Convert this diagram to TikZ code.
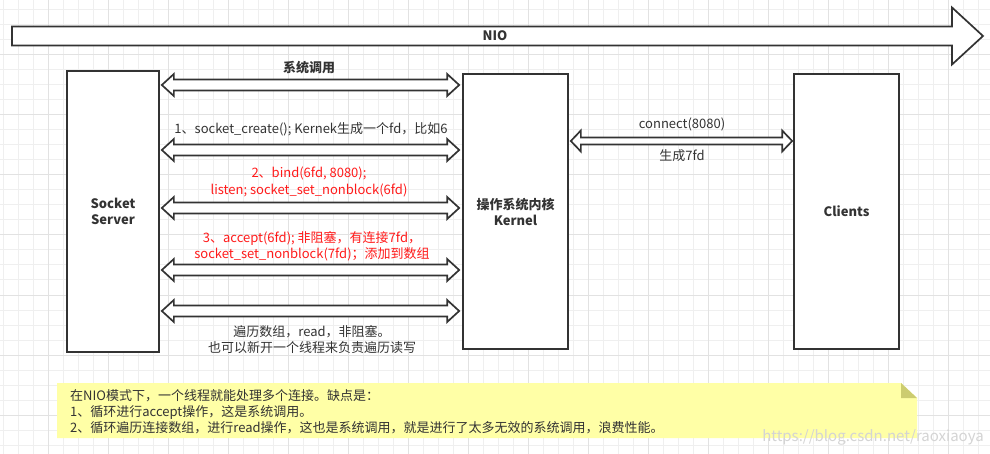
\documentclass[tikz,border=0pt]{standalone}
\usepackage{fontspec}
\setmainfont{Noto Sans CJK SC}
\usetikzlibrary{calc}
\definecolor{ink}{HTML}{333333}
\definecolor{gridminor}{HTML}{EFEFEF}
\definecolor{gridmajor}{HTML}{E2E2E2}
\definecolor{notefill}{HTML}{FFFFA6}
\definecolor{notefold}{HTML}{CCCC70}
\definecolor{txtred}{HTML}{FF1A1A}
\definecolor{wmark}{HTML}{D4D4D4}
\newcommand{\bdarrow}[5]{%
  \draw[blockarrow] (#1) -- ++(#5,-#4) -- ++(0,#4-#3) -- ($(#2)+(-#5,-#3)$) -- ++(0,#3-#4) -- (#2)
    -- ++(-#5,#4) -- ++(0,#3-#4) -- ($(#1)+(#5,#3)$) -- ++(0,#4-#3) -- cycle;}
\begin{document}
\begin{tikzpicture}[x=1pt,y=-1pt,
  box/.style={draw=ink, line width=1.7pt, fill=white, inner sep=0pt, align=center,
    text=ink, font=\fontsize{13}{16}\selectfont\bfseries},
  blockarrow/.style={draw=ink, line width=1.7pt, fill=white, line join=miter},
  lbl/.style={text=ink, inner sep=0pt, align=center, font=\fontsize{13}{16}\selectfont},
  redlbl/.style={lbl, text=txtred}
]
\useasboundingbox (0,0) rectangle (990,454);
\fill[white] (0,0) rectangle (990,454);
% grid
\foreach \gx in {3,18,...,990} \draw[gridminor, line width=1pt] (\gx,0) -- (\gx,454);
\foreach \gy in {10,25,...,454} \draw[gridminor, line width=1pt] (0,\gy) -- (990,\gy);
\foreach \gx in {48,108,...,990} \draw[gridmajor, line width=1pt] (\gx,0) -- (\gx,454);
\foreach \gy in {55,115,...,454} \draw[gridmajor, line width=1pt] (0,\gy) -- (990,\gy);

% NIO arrow
\draw[blockarrow] (12,26.5) -- (952,26.5) -- (952,7.5) -- (983,36) -- (952,64.5) -- (952,45.5) -- (12,45.5) -- cycle;
\node[lbl, font=\fontsize{13}{16}\selectfont\bfseries] (nio) at (495,35.5) {NIO};

% boxes
\node[box, minimum width=92pt, minimum height=281pt] (server) at (113,211.5) {Socket\\Server};
\node[box, minimum width=105pt, minimum height=275pt] (kernel) at (515.5,211.5) {操作系统内核\\Kernel};
\node[box, minimum width=105pt, minimum height=275pt] (clients) at (846.5,211.5) {Clients};

% server-kernel arrows
\foreach \ay/\an in {85/a, 150/b, 208/c, 270/d, 311/e}{
  \coordinate (\an l) at ($(server.east |- 0,\ay)+(2,0)$);
  \coordinate (\an r) at ($(kernel.west |- 0,\ay)+(-3,0)$);
  \bdarrow{\an l}{\an r}{5.5}{11}{12}
}
% kernel-clients arrow
\coordinate (cl) at ($(kernel.east |- 0,141)+(2,0)$);
\coordinate (cr) at ($(clients.west |- 0,141)+(-1,0)$);
\bdarrow{cl}{cr}{3.5}{10.5}{10}

% labels
\node[lbl, font=\fontsize{13}{16}\selectfont\bfseries] (t0) at (309,68) {系统调用};
\node[lbl] (t1) at (311,129) {1、socket\_create(); Kernek生成一个fd，比如6};
\node[redlbl, font=\fontsize{13}{17}\selectfont] (t2) at (309,181.5) {2、bind(6fd, 8080);\\listen; socket\_set\_nonblock(6fd)};
\node[redlbl] (t3) at (312,246) {3、accept(6fd); 非阻塞，有连接7fd，\\socket\_set\_nonblock(7fd)；添加到数组};
\node[lbl, font=\fontsize{13}{15.5}\selectfont] (t4) at (312,339.5) {遍历数组，read，非阻塞。\\也可以新开一个线程来负责遍历读写};
\node[lbl] (t5) at (682,124) {connect(8080)};
\node[lbl] (t6) at (682,156) {生成7fd};

% note
\fill[notefill] (57,383) -- (901,383) -- (917,398) -- (917,438) -- (57,438) -- cycle;
\fill[notefold] (901,383) -- (917,398) -- (901,398) -- cycle;
\node[lbl, anchor=base west] (n1) at (70,400) {在NIO模式下，一个线程就能处理多个连接。缺点是：};
\node[lbl, anchor=base west] (n2) at (70,416) {1、循环进行accept操作，这是系统调用。};
\node[lbl, anchor=base west] (n3) at (70,432) {2、循环遍历连接数组，进行read操作，这也是系统调用，就是进行了太多无效的系统调用，浪费性能。};

% watermark
\node[lbl, text=wmark, font=\fontsize{15}{18}\selectfont] (wm) at (873,437) {https://blog.csdn.net/raoxiaoya};
\end{tikzpicture}
\end{document}
